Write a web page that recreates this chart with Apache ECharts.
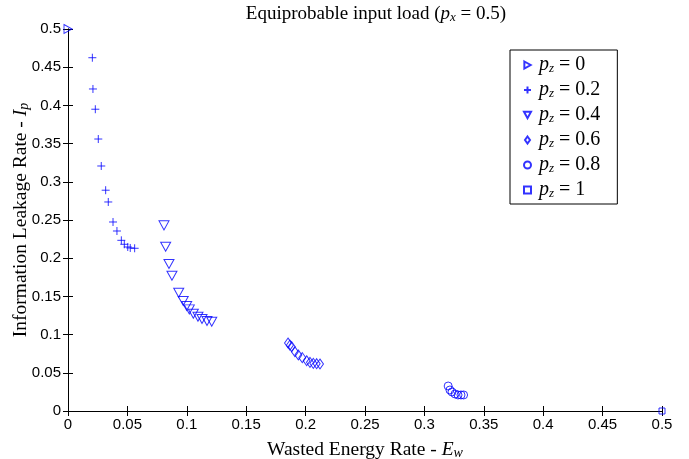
<!DOCTYPE html>
<html><head><meta charset="utf-8">
<script src="https://cdn.jsdelivr.net/npm/echarts@6/dist/echarts.min.js"></script>
<style>html,body{margin:0;padding:0;background:#fff}#c{width:689px;height:459px}</style>
</head><body><div id="c"></div>
<script>
const pzLabels = ['0', '0.2', '0.4', '0.6', '0.8', '1'];
const xTicks = ['0','0.05','0.1','0.15','0.2','0.25','0.3','0.35','0.4','0.45','0.5'];

const pz0_x = [0];
const pz0_y = [0.5];
const pz02_x = [0.0205,0.021,0.023,0.0255,0.028,0.0317,0.0339,0.0379,0.0412,0.0449,0.0474,0.0503,0.0524,0.0561];
const pz02_y = [0.4624,0.4215,0.395,0.356,0.3207,0.289,0.2736,0.2474,0.2356,0.2234,0.2182,0.2147,0.2134,0.213];
const pz04_x = [0.0808,0.0822,0.085,0.0875,0.0932,0.097,0.0999,0.1021,0.1055,0.1094,0.1128,0.117,0.121];
const pz04_y = [0.243,0.215,0.1924,0.177,0.1548,0.144,0.1374,0.133,0.1273,0.1234,0.1204,0.1178,0.1169];
const pz06_x = [0.1852,0.1868,0.1883,0.191,0.1939,0.1972,0.2009,0.2037,0.2065,0.2093,0.2121];
const pz06_y = [0.089,0.0862,0.0842,0.0776,0.0733,0.0698,0.0658,0.0637,0.0624,0.0619,0.0615];
const pz08_x = [0.32,0.3215,0.3232,0.3258,0.3283,0.3308,0.333];
const pz08_y = [0.0327,0.0275,0.0249,0.0223,0.021,0.021,0.021];
const pz1_x = [0.5];
const pz1_y = [0];

const zip = (xs, ys) => xs.map((x, i) => [x, ys[i]]);
const BLUE = '#0000ff';
const serif = 'Liberation Serif';

const symbols = [
  {s: 'path://M0,0L9,5L0,10Z', size: [8, 9]},
  {s: 'path://M0,5L10,5M5,0L5,10', size: 8},
  {s: 'path://M0,0L10,0L5,9Z', size: [10, 9]},
  {s: 'path://M5,0L10,7L5,14L0,7Z', size: [7, 10]},
  {s: 'circle', size: 8},
  {s: 'rect', size: 6}
];
const datasets = [zip(pz0_x,pz0_y), zip(pz02_x,pz02_y), zip(pz04_x,pz04_y), zip(pz06_x,pz06_y), zip(pz08_x,pz08_y), zip(pz1_x,pz1_y)];

const series = pzLabels.map((lab, i) => ({
  type: 'scatter',
  name: 'pz' + i,
  data: datasets[i],
  symbol: symbols[i].s,
  symbolSize: symbols[i].size,
  clip: false,
  itemStyle: {color: 'rgba(0,0,0,0)', borderColor: BLUE, borderWidth: 1},
  emphasis: {disabled: true}
}));

const richMath = (fs) => ({
  t: {fontFamily: serif, fontWeight: 'normal', fontSize: fs, color: '#000', lineHeight: 20, verticalAlign: 'middle'},
  i: {fontFamily: serif, fontWeight: 'normal', fontStyle: 'italic', fontSize: fs, color: '#000', lineHeight: 20, verticalAlign: 'middle'},
  s: {fontFamily: serif, fontWeight: 'normal', fontStyle: 'italic', fontSize: Math.round(fs * 0.7), color: '#000', lineHeight: 12, verticalAlign: 'bottom'}
});

const axisCommon = {
  type: 'value', min: 0, max: 0.5, interval: 0.05,
  splitLine: {show: false},
  axisLine: {show: true, lineStyle: {color: '#000', width: 1}},
  axisTick: {show: true, inside: true, length: 5, lineStyle: {color: '#000'}},
};

const option = {
  animation: false,
  backgroundColor: '#fff',
  title: {
    text: '{t|Equiprobable input load (}{i|p}{s|x}{t| = 0.5)}',
    left: 371, top: -1, textAlign: 'center',
    textStyle: {fontWeight: 'normal', rich: richMath(19)}
  },
  grid: {left: 68, right: 27, top: 29, bottom: 48, outerBoundsMode: 'none', containLabel: false},
  legend: {
    orient: 'vertical',
    left: 510, top: 50,
    padding: [5, 17, 4, 13],
    itemWidth: 7, itemHeight: 7, itemGap: 5,
    borderColor: '#000', borderWidth: 1,
    backgroundColor: '#fff',
    selectedMode: false,
    data: pzLabels.map((l, i) => 'pz' + i),
    formatter: name => {
      const i = +name.slice(2);
      return '{i|p}{s|z}{t| = ' + pzLabels[i] + '}';
    },
    textStyle: {rich: {
      t: {fontFamily: serif, fontSize: 20, color: '#000', lineHeight: 20, verticalAlign: 'middle'},
      i: {fontFamily: serif, fontStyle: 'italic', fontSize: 20, color: '#000', lineHeight: 20, verticalAlign: 'middle', padding: [0,0,0,3]},
      s: {fontFamily: serif, fontStyle: 'italic', fontSize: 13, color: '#000', lineHeight: 13, verticalAlign: 'bottom'}
    }}
  },
  xAxis: [
    Object.assign({}, axisCommon, {
      position: 'bottom',
      name: '{t|Wasted Energy Rate - }{i|E}{s|w}',
      nameLocation: 'middle', nameGap: 29,
      nameTextStyle: {rich: richMath(19.5)},
      axisLabel: {color: '#000', fontFamily: 'Liberation Sans', fontSize: 15, margin: 6,
        formatter: (v) => xTicks[Math.round(v / 0.05)]}
    }),
    Object.assign({}, axisCommon, {position: 'top', axisLabel: {show: false}})
  ],
  yAxis: [
    Object.assign({}, axisCommon, {
      position: 'left',
      name: '{t|Information Leakage Rate - }{i|I}{s|p}',
      nameLocation: 'middle', nameGap: 37, nameMoveOverlap: false,
      nameTextStyle: {rich: richMath(19.5)},
      axisLabel: {color: '#000', fontFamily: 'Liberation Sans', fontSize: 15, margin: 7,
        formatter: (v) => xTicks[Math.round(v / 0.05)]}
    }),
    Object.assign({}, axisCommon, {position: 'right', axisLabel: {show: false}})
  ],
  series: series
};

const chart = echarts.init(document.getElementById('c'), null, {renderer: 'canvas'});
chart.setOption(option);
</script>
</body></html>
